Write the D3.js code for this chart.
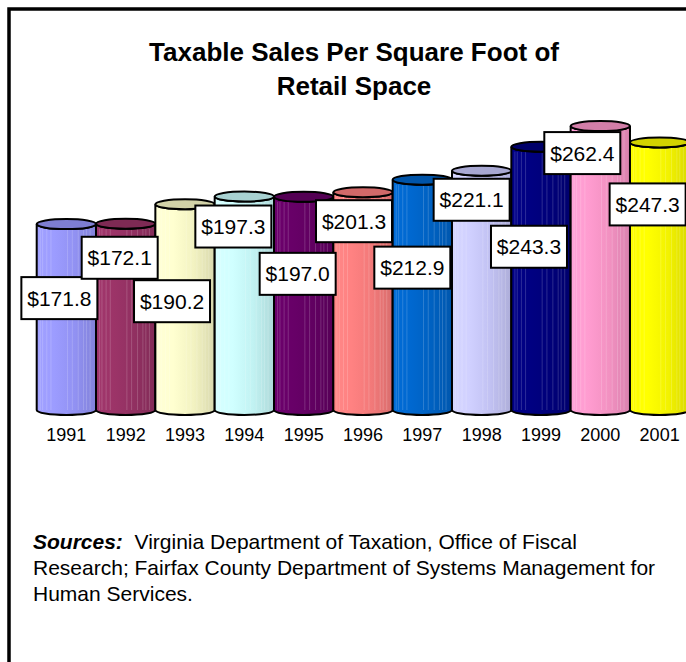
<!DOCTYPE html>
<html>
<head>
<meta charset="utf-8">
<script src="https://cdn.jsdelivr.net/npm/d3@7/dist/d3.min.js"></script>
<style>
  html, body { margin: 0; padding: 0; background: #fff; }
  svg { display: block; font-family: "Liberation Sans", Arial, sans-serif; }
</style>
</head>
<body>
<svg id="chart" width="686" height="662"></svg>
<script>
// Taxable sales per square foot of retail space, 1991-2001
const years = ["1991", "1992", "1993", "1994", "1995", "1996", "1997", "1998", "1999", "2000", "2001"];
const salesPerSqFt = [171.8, 172.1, 190.2, 197.3, 197.0, 201.3, 212.9, 221.1, 243.3, 262.4, 247.3];
const barColors = ["#9999ff", "#993366", "#ffffcc", "#ccffff", "#660066", "#ff8080",
                   "#0066cc", "#ccccff", "#000080", "#ff99cc", "#ffff00"];
const titleLines = ["Taxable Sales Per Square Foot of", "Retail Space"];
const sourceLines = [
  ["Sources:", "  Virginia Department of Taxation, Office of Fiscal"],
  ["", "Research; Fairfax County Department of Systems Management for"],
  ["", "Human Services."]
];

// Hand placement of each value box: [dx from bar centre, dy below cylinder top]
const labelPlacement = [[-7, 74], [-6, 34], [-13, 97], [-11, 30], [-6, 77], [-9, 29],
                        [-10, 88], [-10, 29], [-12, 100], [-18, 27], [-12, 62]];

const svg = d3.select("#chart");
const W = 686, H = 662;

svg.append("rect").attr("width", W).attr("height", H).attr("fill", "#fff");

// outer frame
svg.append("rect")
  .attr("x", 9).attr("y", 9)
  .attr("width", 720).attr("height", 720)
  .attr("fill", "none").attr("stroke", "#000").attr("stroke-width", 3.5);

// title
svg.append("g").selectAll("text").data(titleLines).join("text")
  .attr("x", 354).attr("y", (d, i) => 61 + i * 34)
  .attr("text-anchor", "middle")
  .attr("font-size", 26).attr("font-weight", "bold")
  .text(d => d);

// scales
const x = d3.scaleBand().domain(years).range([36.7, 689.3]).padding(0);
const y = d3.scaleLinear().domain([0, 300]).range([410, 85.4]);
const rx = x.bandwidth() / 2;
const ry = 5;

// cylinder shading gradients
const defs = svg.append("defs");
barColors.forEach((c, i) => {
  const base = d3.color(c);
  const g = defs.append("linearGradient").attr("id", "cyl" + i)
    .attr("x1", "0%").attr("x2", "100%").attr("y1", "0%").attr("y2", "0%");
  const hsl = d3.hsl(c);
  g.append("stop").attr("offset", "0%").attr("stop-color", base.brighter(0.15));
  g.append("stop").attr("offset", "30%").attr("stop-color", base.brighter(0.05));
  g.append("stop").attr("offset", "65%").attr("stop-color", base.darker(0.15));
  g.append("stop").attr("offset", "100%").attr("stop-color", base.darker(0.45));
});

const stripeFracs = [0.06, 0.1, 0.17, 0.24, 0.52, 0.6, 0.7, 0.79, 0.84, 0.9];

const bars = svg.append("g").selectAll("g").data(years).join("g");

bars.each(function(yr, i) {
  const g = d3.select(this);
  const x0 = x(yr), x1 = x0 + x.bandwidth();
  const yt = y(salesPerSqFt[i]), yb = y(0);
  const body = `M${x0},${yt} L${x0},${yb} A${rx},${ry} 0 0 0 ${x1},${yb} L${x1},${yt} A${rx},${ry} 0 0 1 ${x0},${yt} Z`;
  g.append("path").attr("d", body).attr("fill", `url(#cyl${i})`);
  // fine banding on the cylinder wall
  g.selectAll("line.stripe").data(stripeFracs).join("line")
    .attr("class", "stripe")
    .attr("x1", f => x0 + f * (x1 - x0)).attr("x2", f => x0 + f * (x1 - x0))
    .attr("y1", yt + ry).attr("y2", yb)
    .attr("stroke", "#fff").attr("stroke-opacity", 0.22).attr("stroke-width", 0.8);
  g.append("path").attr("d", body).attr("fill", "none")
    .attr("stroke", "#000").attr("stroke-width", 2);
  g.append("ellipse")
    .attr("cx", x0 + rx).attr("cy", yt).attr("rx", rx).attr("ry", ry)
    .attr("fill", d3.color(barColors[i]).darker(0.55))
    .attr("stroke", "#000").attr("stroke-width", 2);
});

// category labels
svg.append("g").selectAll("text").data(years).join("text")
  .attr("x", d => x(d) + x.bandwidth() / 2)
  .attr("y", 441)
  .attr("text-anchor", "middle")
  .attr("font-size", 18)
  .text(d => d);

// value boxes
const labels = svg.append("g").selectAll("g").data(years).join("g")
  .attr("transform", (d, i) => {
    const cx = x(d) + x.bandwidth() / 2 + labelPlacement[i][0];
    const cy = y(salesPerSqFt[i]) + labelPlacement[i][1];
    return `translate(${cx},${cy})`;
  });
labels.append("rect")
  .attr("x", -38).attr("y", -21).attr("width", 76).attr("height", 42)
  .attr("fill", "#fff").attr("stroke", "#000").attr("stroke-width", 2);
labels.append("text")
  .attr("text-anchor", "middle").attr("dy", "0.36em")
  .attr("font-size", 21)
  .text((d, i) => "$" + salesPerSqFt[i].toFixed(1));

// sources note
const src = svg.append("g").attr("font-size", 21);
sourceLines.forEach((ln, i) => {
  const t = src.append("text").attr("x", 33).attr("y", 549 + i * 26).attr("xml:space", "preserve");
  if (ln[0]) t.append("tspan").attr("font-weight", "bold").attr("font-style", "italic").text(ln[0]);
  t.append("tspan").text(ln[1]);
});
</script>
</body>
</html>
